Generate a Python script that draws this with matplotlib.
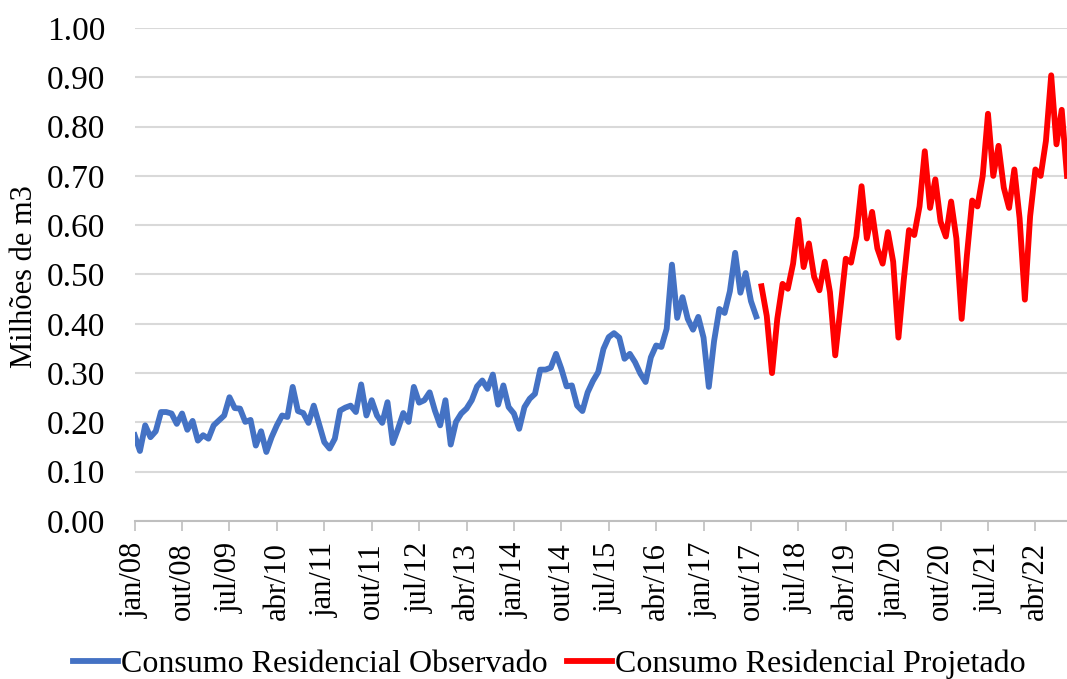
import numpy as np
import matplotlib.pyplot as plt

plt.rcParams['font.family'] = ['Liberation Serif', 'DejaVu Serif']

# consumo residencial observado, jan/08 a nov/17 (milhoes de m3)
observado = [
    0.174, 0.142, 0.194, 0.170, 0.182, 0.221, 0.221, 0.218, 0.197, 0.218,
    0.185, 0.203, 0.163, 0.174, 0.167, 0.194, 0.204, 0.214, 0.251, 0.229,
    0.228, 0.201, 0.205, 0.153, 0.182, 0.140, 0.170, 0.194, 0.214, 0.211,
    0.272, 0.223, 0.219, 0.199, 0.234, 0.197, 0.160, 0.147, 0.167, 0.224,
    0.230, 0.234, 0.221, 0.277, 0.214, 0.245, 0.214, 0.199, 0.241, 0.158,
    0.187, 0.219, 0.201, 0.272, 0.240,
    0.245, 0.261, 0.224, 0.194, 0.245, 0.155, 0.201, 0.218, 0.228, 0.245,
    0.273, 0.285, 0.268, 0.297, 0.236, 0.275, 0.231, 0.218, 0.187, 0.231,
    0.248, 0.258, 0.307, 0.307, 0.311, 0.339, 0.309, 0.273, 0.275, 0.234,
    0.223, 0.261, 0.284, 0.302, 0.349, 0.373, 0.381, 0.372, 0.329, 0.339,
    0.322, 0.299, 0.282, 0.332, 0.356, 0.353, 0.390, 0.520, 0.412, 0.454,
    0.410, 0.388, 0.414,
    0.372, 0.272, 0.365, 0.430, 0.422, 0.466, 0.544, 0.463, 0.503, 0.446,
    0.415,
]

# consumo residencial projetado, dez/17 em diante
projetado = [
    0.476, 0.416, 0.300, 0.410, 0.481, 0.471, 0.522, 0.611, 0.515, 0.563,
    0.495, 0.468, 0.526, 0.464, 0.336, 0.433, 0.532, 0.524, 0.577, 0.679,
    0.573, 0.627, 0.553, 0.522, 0.586, 0.526, 0.372, 0.488, 0.590, 0.580,
    0.638, 0.750, 0.635, 0.693, 0.607, 0.577, 0.648, 0.573, 0.410, 0.539,
    0.650, 0.638, 0.700, 0.826, 0.700, 0.761, 0.676, 0.635, 0.713, 0.614,
    0.449, 0.618, 0.713, 0.700, 0.771, 0.904, 0.764, 0.834, 0.700,
]

tick_labels = ['jan/08', 'out/08', 'jul/09', 'abr/10', 'jan/11', 'out/11',
               'jul/12', 'abr/13', 'jan/14', 'out/14', 'jul/15', 'abr/16',
               'jan/17', 'out/17', 'jul/18', 'abr/19', 'jan/20', 'out/20',
               'jul/21', 'abr/22']

x_obs = np.arange(len(observado))
x_proj = np.arange(len(observado), len(observado) + len(projetado))

fig = plt.figure(figsize=(10.67, 6.79), dpi=100)
ax = fig.add_axes([0.1262, 0.2327, 0.8738, 0.7261])

ax.plot(x_obs, observado, color='#4472C4', lw=4.2, solid_joinstyle='round',
        label='Consumo Residencial Observado')
ax.plot(x_proj, projetado, color='#FF0000', lw=4.2, solid_joinstyle='round',
        label='Consumo Residencial Projetado')

ax.set_xlim(0, x_proj[-1])
ax.set_ylim(0, 1.0)
ax.set_yticks(np.arange(0, 1.01, 0.1))
ax.set_yticklabels(['%.2f' % v for v in np.arange(0, 1.01, 0.1)], fontsize=24)
ax.set_xticks(np.arange(0, 9 * len(tick_labels), 9))
ax.set_xticklabels(tick_labels, rotation=90, fontsize=22)

ax.grid(axis='y', color='#d9d9d9', lw=1.5)
ax.set_axisbelow(True)
for s in ['top', 'right', 'left']:
    ax.spines[s].set_visible(False)
ax.spines['bottom'].set_color('#bfbfbf')
ax.spines['bottom'].set_linewidth(1.5)
ax.tick_params(axis='y', length=0, pad=21)
ax.tick_params(axis='x', direction='out', length=7, width=1.2,
               color='#bfbfbf', pad=8)

fig.text(25 / 1067, 0.592, 'Milhões de m3', rotation=90,
         ha='center', va='center', fontsize=22)

fig.legend(loc='center', bbox_to_anchor=(0.515, 0.022), ncol=2, frameon=False,
           fontsize=23, handlelength=1.4, handletextpad=0.1, columnspacing=0.6)

plt.savefig('out.png', dpi=100)
